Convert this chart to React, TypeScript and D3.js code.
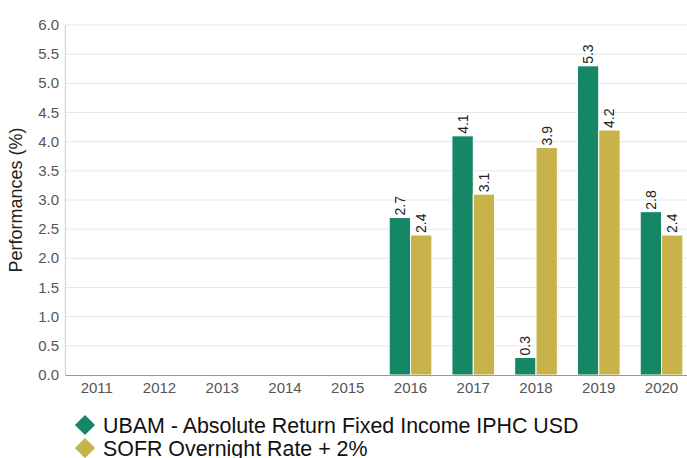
import React, { useEffect, useRef } from "react";
import * as d3 from "d3";

const years = ["2011", "2012", "2013", "2014", "2015", "2016", "2017", "2018", "2019", "2020"];
const fundValues: (number | null)[] = [null, null, null, null, null, 2.7, 4.1, 0.3, 5.3, 2.8];
const benchValues: (number | null)[] = [null, null, null, null, null, 2.4, 3.1, 3.9, 4.2, 2.4];
const yTicks = [0, 0.5, 1, 1.5, 2, 2.5, 3, 3.5, 4, 4.5, 5, 5.5, 6];
const seriesNames = ["UBAM - Absolute Return Fixed Income IPHC USD", "SOFR Overnight Rate + 2%"];
const seriesColors = ["#168766", "#c8b34a"];

export default function App() {
  const svgRef = useRef<SVGSVGElement>(null);

  useEffect(() => {
    if (!svgRef.current) return;
    const width = 687;
    const left = 65.4;
    const right = 692.9;
    const top = 25;
    const bottom = 375;

    const svg = d3.select(svgRef.current);
    svg.selectAll("*").remove();
    const font = "'Liberation Sans', Arial, sans-serif";

    const x = d3.scaleBand().domain(years).range([left, right]).paddingInner(0.32).paddingOuter(0.16);
    const x1 = d3.scaleBand().domain(["fund", "bench"]).range([0, x.bandwidth()]);
    const y = d3.scaleLinear().domain([0, 6]).range([bottom, top]);

    // grid
    svg.append("g").selectAll("line")
      .data(yTicks.filter(t => t > 0))
      .enter().append("line")
      .attr("x1", left).attr("x2", width)
      .attr("y1", d => y(d)).attr("y2", d => y(d))
      .attr("stroke", "#e6e6e6").attr("stroke-width", 1);

    // y tick labels
    svg.append("g").selectAll("text")
      .data(yTicks)
      .enter().append("text")
      .attr("x", 59).attr("y", d => y(d) + 5)
      .attr("text-anchor", "end")
      .style("font-family", font).style("font-size", "15px").style("fill", "#555")
      .text(d => d.toFixed(1));

    // left axis
    svg.append("line")
      .attr("x1", left).attr("x2", left).attr("y1", top).attr("y2", bottom)
      .attr("stroke", "#ccc");

    // y title
    svg.append("text")
      .attr("transform", `translate(22,${(top + bottom) / 2}) rotate(-90)`)
      .attr("text-anchor", "middle")
      .style("font-family", font).style("font-size", "18px").style("fill", "#222")
      .text("Performances (%)");

    const series = [
      { key: "fund", values: fundValues, color: seriesColors[0] },
      { key: "bench", values: benchValues, color: seriesColors[1] },
    ];

    series.forEach(s => {
      const data = years.map((yr, i) => ({ yr, v: s.values[i] })).filter(d => d.v !== null) as { yr: string; v: number }[];
      const g = svg.append("g");
      g.selectAll("rect").data(data).enter().append("rect")
        .attr("x", d => (x(d.yr) as number) + (x1(s.key) as number))
        .attr("width", x1.bandwidth())
        .attr("y", d => y(d.v))
        .attr("height", d => y(0) - y(d.v))
        .attr("fill", s.color)
        .attr("stroke", "#fff").attr("stroke-width", 1);
      g.selectAll("text").data(data).enter().append("text")
        .attr("transform", d => `translate(${(x(d.yr) as number) + (x1(s.key) as number) + x1.bandwidth() / 2 + 5},${y(d.v) - 2}) rotate(-90)`)
        .attr("text-anchor", "start")
        .style("font-family", font).style("font-size", "14px").style("fill", "#222")
        .text(d => d.v.toFixed(1));
    });

    // bottom axis
    svg.append("line")
      .attr("x1", left).attr("x2", width).attr("y1", bottom + 0.5).attr("y2", bottom + 0.5)
      .attr("stroke", "#999");

    svg.append("g").selectAll("text")
      .data(years).enter().append("text")
      .attr("x", d => (x(d) as number) + x.bandwidth() / 2)
      .attr("y", 393)
      .attr("text-anchor", "middle")
      .style("font-family", font).style("font-size", "15px").style("fill", "#555")
      .text(d => d);

    // legend
    const legend = svg.append("g");
    seriesNames.forEach((name, i) => {
      const cy = 425 + i * 23;
      legend.append("path")
        .attr("d", d3.symbol().type(d3.symbolDiamond2).size(260)())
        .attr("transform", `translate(85,${cy})`)
        .attr("fill", seriesColors[i]);
      legend.append("text")
        .attr("x", 103).attr("y", cy + 7.5)
        .style("font-family", font).style("font-size", "21.4px").style("fill", "#111")
        .text(name);
    });
  }, []);

  return (
    <div style={{ position: "absolute", left: 0, top: 0, width: 687, height: 458, background: "#fff", overflow: "hidden" }}>
      <svg ref={svgRef} width={687} height={458} style={{ display: "block" }} />
    </div>
  );
}
